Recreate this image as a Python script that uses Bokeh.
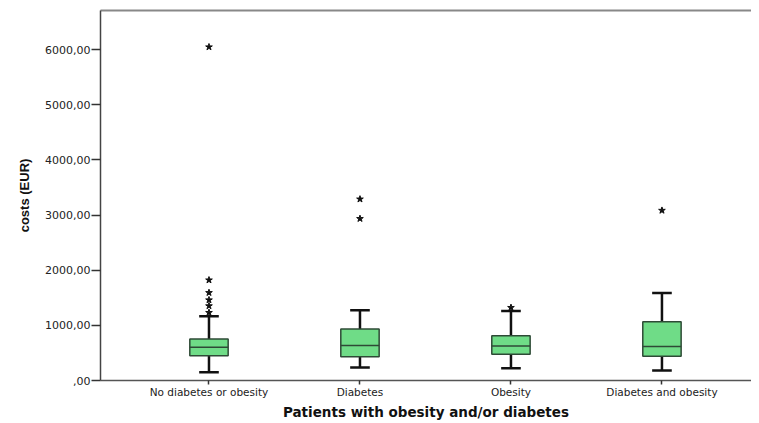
from bokeh.plotting import figure
from bokeh.models import LinearAxis, FixedTicker, Range1d
from bokeh.embed import file_html
from bokeh.resources import INLINE

categories = ["No diabetes or obesity", "Diabetes", "Obesity", "Diabetes and obesity"]
q1 = [451, 433, 475, 439]
median = [601, 637, 626, 619]
q3 = [752, 933, 812, 1065]
whisker_low = [150, 235, 222, 180]
whisker_high = [1167, 1276, 1263, 1588]
outlier_cat = [1, 1, 1, 1, 1, 1, 2, 2, 3, 4]
outlier_val = [6050, 1822, 1593, 1461, 1353, 1232, 3290, 2936, 1323, 3085]
y_ticks = [0, 1000, 2000, 3000, 4000, 5000, 6000]
y_tick_labels = [",00", "1000,00", "2000,00", "3000,00", "4000,00", "5000,00", "6000,00"]

pos = [1, 2, 3, 4]
box_w = 0.254
cap_w = 0.13

p = figure(width=751, height=415, output_backend="svg", toolbar_location=None,
           x_range=Range1d(0.2815, 4.593), y_range=Range1d(0, 6712),
           x_axis_location=None, y_axis_location=None,
           frame_width=651, frame_height=370,
           min_border_left=100, min_border_right=0, min_border_top=10, min_border_bottom=35)
p.background_fill_color = "white"
p.border_fill_color = "white"
p.outline_line_color = None
p.xgrid.visible = False
p.ygrid.visible = False

# y axis
yax = LinearAxis(ticker=FixedTicker(ticks=y_ticks),
                 major_label_overrides={t: l for t, l in zip(y_ticks, y_tick_labels)})
yax.axis_label = "costs (EUR)"
yax.axis_label_text_font = "Liberation Sans"
yax.axis_label_text_font_style = "bold"
yax.axis_label_text_font_size = "13px"
yax.axis_label_text_color = "#111111"
yax.axis_label_standoff = 10
yax.major_label_text_font = "DejaVu Sans"
yax.major_label_text_font_size = "11px"
yax.major_label_text_color = "#222222"
yax.major_label_standoff = 1
yax.major_tick_out = 9
yax.major_tick_in = 0
yax.minor_tick_line_color = None
yax.major_tick_line_color = "#333333"
yax.major_tick_line_width = 1.5
yax.axis_line_color = "#444444"
yax.axis_line_width = 1.5
p.add_layout(yax, "left")

# x axis
xax = LinearAxis(ticker=FixedTicker(ticks=pos),
                 major_label_overrides={i: c for i, c in zip(pos, categories)})
xax.axis_label = "Patients with obesity and/or diabetes"
xax.axis_label_text_font = "DejaVu Sans"
xax.axis_label_text_font_style = "bold"
xax.axis_label_text_font_size = "13.5px"
xax.axis_label_text_color = "#111111"
xax.axis_label_standoff = 3
xax.major_label_text_font = "DejaVu Sans"
xax.major_label_text_font_size = "10.5px"
xax.major_label_text_color = "#222222"
xax.major_label_standoff = 1
xax.major_tick_out = 4
xax.major_tick_in = 0
xax.minor_tick_line_color = None
xax.major_tick_line_color = "#333333"
xax.major_tick_line_width = 1.5
xax.axis_line_color = "#555555"
xax.axis_line_width = 1.5
p.add_layout(xax, "below")

# top frame line
tax = LinearAxis(ticker=FixedTicker(ticks=[]))
tax.major_label_text_font_size = "0px"
tax.major_tick_line_color = None
tax.minor_tick_line_color = None
tax.axis_line_color = "#888888"
tax.axis_line_width = 2
p.add_layout(tax, "above")

# whiskers
p.segment(x0=pos, y0=q3, x1=pos, y1=whisker_high, line_color="#111111", line_width=2.5)
p.segment(x0=pos, y0=whisker_low, x1=pos, y1=q1, line_color="#111111", line_width=2.5)
p.segment(x0=[x - cap_w / 2 for x in pos], y0=whisker_high,
          x1=[x + cap_w / 2 for x in pos], y1=whisker_high, line_color="#111111", line_width=2.5)
p.segment(x0=[x - cap_w / 2 for x in pos], y0=whisker_low,
          x1=[x + cap_w / 2 for x in pos], y1=whisker_low, line_color="#111111", line_width=2.5)

# boxes
p.vbar(x=pos, width=box_w, bottom=q1, top=q3, fill_color="#6fdc87",
       line_color="#2e4a36", line_width=1.5)
p.segment(x0=[x - box_w / 2 for x in pos], y0=median,
          x1=[x + box_w / 2 for x in pos], y1=median, line_color="#2e4a36", line_width=1.5)

# outliers
p.scatter(x=outlier_cat, y=outlier_val, marker="star", size=7,
          fill_color="#111111", line_color="#111111")

open("out.html", "w").write(file_html(p, INLINE))
